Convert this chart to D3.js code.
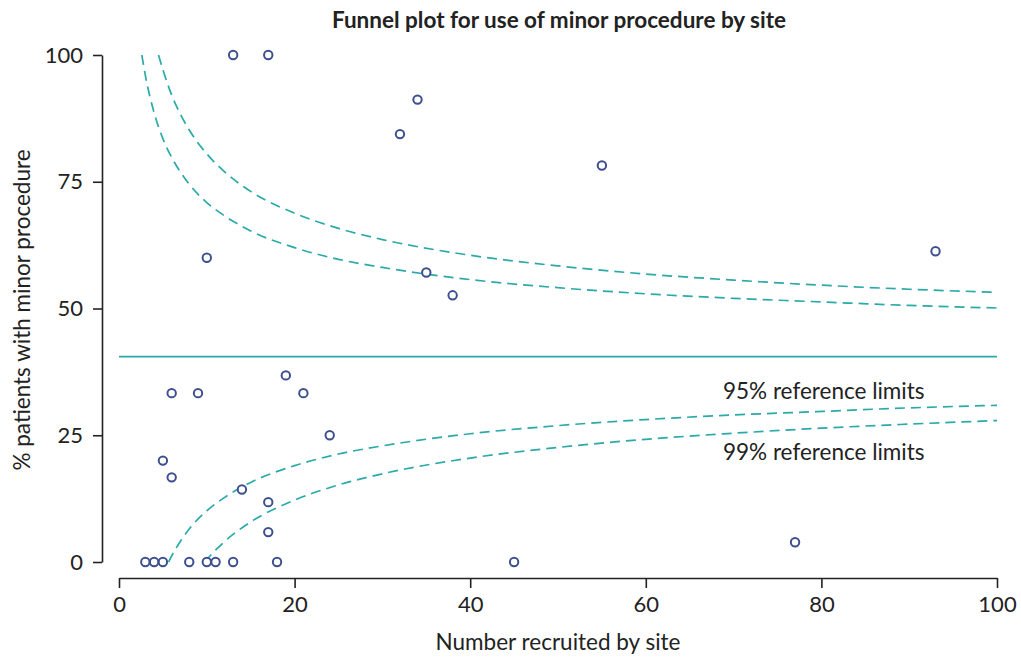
<!doctype html>
<html>
<head>
<meta charset="utf-8">
<title>Funnel plot</title>
<script src="https://cdn.jsdelivr.net/npm/d3@7"></script>
<style>
  body { margin: 0; background: #fff; font-family: Lato, sans-serif; }
  .axis path, .axis line { stroke: #222; stroke-width: 1.6; fill: none; }
  .axis text { font: 22px Lato, sans-serif; fill: #222; }
  .lbl { font: 22.5px Lato, sans-serif; fill: #222; }
  .title { font: bold 22.5px Lato, sans-serif; fill: #222; }
</style>
</head>
<body>
<script>
// sites: number recruited and % with minor procedure
var siteN   = [3, 4, 5, 8, 10, 11, 13, 18, 45, 77, 5, 6, 6, 9, 10, 13, 17, 14, 17, 17, 19, 21, 24, 32, 34, 35, 38, 55, 93];
var sitePct = [0, 0, 0, 0, 0, 0, 0, 0, 0, 3.9, 20, 16.7, 33.3, 33.3, 60, 100, 100, 14.3, 11.8, 5.9, 36.8, 33.3, 25, 84.4, 91.2, 57.1, 52.6, 78.2, 61.3];

var overall = 40.5;

// reference limits
var up95N = [2.6, 3, 4, 5, 6, 7, 8, 10, 12, 15, 20, 25, 30, 40, 50, 60, 70, 80, 90, 100];
var up95  = [100, 96.0, 88.6, 83.5, 79.8, 76.9, 74.5, 70.9, 68.3, 65.3, 62.0, 59.7, 58.1, 55.7, 54.1, 52.9, 52.0, 51.3, 50.6, 50.1];
var lo95N = [5.65, 6, 7, 8, 10, 12, 15, 20, 25, 30, 40, 50, 60, 70, 80, 90, 100];
var lo95  = [0, 1.2, 4.1, 6.5, 10.1, 12.7, 15.7, 19.0, 21.3, 22.9, 25.3, 26.9, 28.1, 29.0, 29.7, 30.4, 30.9];
var up99N = [4.5, 5, 6, 7, 8, 10, 12, 15, 20, 25, 30, 40, 50, 60, 70, 80, 90, 100];
var up99  = [100, 97.1, 92.1, 88.3, 85.2, 80.5, 77.0, 73.1, 68.8, 65.8, 63.6, 60.5, 58.4, 56.8, 55.6, 54.6, 53.8, 53.2];
var lo99N = [9.75, 10, 12, 15, 20, 25, 30, 40, 50, 60, 70, 80, 90, 100];
var lo99  = [0, 0.5, 4.0, 7.9, 12.2, 15.2, 17.4, 20.5, 22.6, 24.2, 25.4, 26.4, 27.2, 27.9];

var xTicks = [0, 20, 40, 60, 80, 100];
var yTicks = [0, 25, 50, 75, 100];

var W = 1021, H = 660;
var teal = "#2aaaa8", navy = "#3d4f8e";

var svg = d3.select("body").append("svg")
  .attr("width", W)
  .attr("height", H);

var x = d3.scaleLinear().domain([0, 100]).range([119, 997]);
var y = d3.scaleLinear().domain([0, 100]).range([562, 55]);

// axes
svg.append("g")
  .attr("class", "axis")
  .attr("transform", "translate(0,578)")
  .call(d3.axisBottom(x).tickValues(xTicks).tickSize(10).tickSizeOuter(0).tickPadding(8));

svg.append("g")
  .attr("class", "axis")
  .attr("transform", "translate(102,0)")
  .call(d3.axisLeft(y).tickValues(yTicks).tickSize(9).tickSizeOuter(0).tickPadding(10));

// centre line
svg.append("line")
  .attr("x1", x(0)).attr("x2", x(100))
  .attr("y1", y(overall)).attr("y2", y(overall))
  .attr("stroke", teal).attr("stroke-width", 1.8);

// limits
var line = d3.line()
  .x(function(d) { return x(d[0]); })
  .y(function(d) { return y(d[1]); })
  .curve(d3.curveMonotoneX);

[[up95N, up95], [lo95N, lo95], [up99N, up99], [lo99N, lo99]].forEach(function(c) {
  svg.append("path")
    .datum(d3.zip(c[0], c[1]))
    .attr("d", line)
    .attr("fill", "none")
    .attr("stroke", teal)
    .attr("stroke-width", 1.7)
    .attr("stroke-dasharray", "10,6");
});

// sites
svg.append("g")
  .selectAll("circle")
  .data(d3.zip(siteN, sitePct))
  .join("circle")
  .attr("cx", function(d) { return x(d[0]); })
  .attr("cy", function(d) { return y(d[1]); })
  .attr("r", 4.2)
  .attr("fill", "#fff")
  .attr("stroke", navy)
  .attr("stroke-width", 2);

// labels
svg.append("text").attr("class", "lbl")
  .attr("x", 723).attr("y", 399).text("95% reference limits");
svg.append("text").attr("class", "lbl")
  .attr("x", 723).attr("y", 460).text("99% reference limits");

svg.append("text").attr("class", "title")
  .attr("x", 559).attr("y", 28).attr("text-anchor", "middle")
  .text("Funnel plot for use of minor procedure by site");

svg.append("text").attr("class", "lbl")
  .attr("x", 558).attr("y", 650).attr("text-anchor", "middle")
  .text("Number recruited by site");

svg.append("text").attr("class", "lbl")
  .attr("transform", "translate(30,310) rotate(-90)")
  .attr("text-anchor", "middle")
  .text("% patients with minor procedure");
</script>
</body>
</html>
